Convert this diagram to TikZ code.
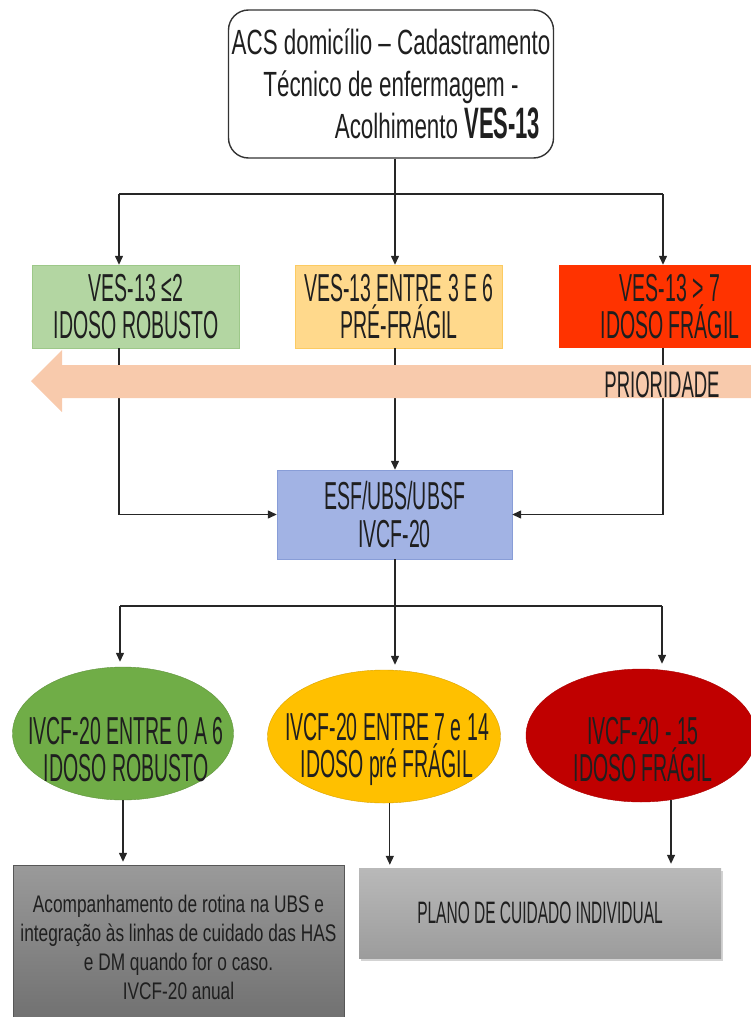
\documentclass[tikz,border=0pt]{standalone}
\usepackage{fontspec}
\setmainfont{Liberation Sans}[FakeStretch=0.5]
\newfontfamily\fontetopo{Liberation Sans}[FakeStretch=0.64]
\newfontfamily\fontecinza{Liberation Sans}[FakeStretch=0.72]
\usetikzlibrary{arrows.meta,shapes.geometric,shadows}

\definecolor{textocinza}{HTML}{1F1F1F}
\definecolor{verdeclaro}{HTML}{B3D6A2}
\definecolor{verdeborda}{HTML}{9DC889}
\definecolor{laranjaclaro}{HTML}{FFD98C}
\definecolor{laranjaborda}{HTML}{FCCB62}
\definecolor{vermelhovivo}{HTML}{FF3300}
\definecolor{pessego}{HTML}{F8CAAC}
\definecolor{azulesf}{HTML}{A2B3E4}
\definecolor{azulborda}{HTML}{889DD7}
\definecolor{verdeesc}{HTML}{70AD47}
\definecolor{amarelo}{HTML}{FFC000}
\definecolor{vermelhoesc}{HTML}{C00000}
\definecolor{cinzaesc1}{HTML}{9A9A9A}
\definecolor{cinzaesc2}{HTML}{6E6E6E}
\definecolor{cinzaborda}{HTML}{575757}
\definecolor{cinzacl1}{HTML}{B9B9B9}
\definecolor{cinzacl2}{HTML}{9C9C9C}

\tikzset{
  seta/.style={-{Triangle[length=9pt,width=8pt]}, line width=1.3pt, draw=black!85},
  linha/.style={line width=1.3pt, draw=black!85},
  caixa/.style={rectangle, inner sep=1pt, align=center, text=textocinza},
  vesbox/.style={caixa, minimum height=83pt, font=\fontsize{39}{37}\selectfont,
    execute at begin node=\rule{0pt}{41pt}},
  elipse/.style={ellipse, inner sep=0pt, minimum height=133pt},
  rotulo/.style={align=center, text=textocinza, inner sep=0pt},
}

\begin{document}
\begin{tikzpicture}[x=1pt, y=-1pt]
\useasboundingbox (0,0) rectangle (751,1017);

% Acolhimento
\node[caixa, draw=black!80, line width=1.4pt, rounded corners=20pt, minimum width=325pt,
  minimum height=148pt, inner sep=0pt, font=\fontetopo\fontsize{35}{42}\selectfont] (acs) at (391,84)
  {ACS domicílio – Cadastramento\\Técnico de enfermagem -\\\hspace*{93pt}Acolhimento
   {\rmfamily\bfseries\fontsize{44}{42}\selectfont VES-13}};

% VES-13
\node[vesbox, draw=verdeborda, fill=verdeclaro, minimum width=207pt] (ves1) at (136,306.5) {VES-13 ≤2\\IDOSO ROBUSTO};
\node[vesbox, draw=laranjaborda, fill=laranjaclaro, minimum width=207pt] (ves2) at (399,306.5) {VES-13 ENTRE 3 E 6\\PRÉ-FRÁGIL};
\node[vesbox, fill=vermelhovivo, minimum width=222pt] (ves3) at (670,306.5) {VES-13 > 7\\IDOSO FRÁGIL};

\coordinate (r1e) at (119,194);
\coordinate (r1m) at (395,194);
\coordinate (r1d) at (663,194);
\draw[linha] (r1m |- acs.south) -- (r1m);
\draw[linha] (r1e) -- (r1d);
\draw[seta] (r1e) -- (r1e |- ves1.north);
\draw[seta] (r1m) -- (r1m |- ves2.north);
\draw[seta] (r1d) -- (r1d |- ves3.north);

% ESF
\node[caixa, draw=azulborda, fill=azulesf, minimum width=235pt, minimum height=89pt,
  font=\fontsize{39}{38}\selectfont] (esf) at (394.5,514.5) {ESF/UBS/UBSF\\IVCF-20};

\draw[seta] (r1e |- ves1.south) |- (esf.west);
\draw[seta] (r1m |- ves2.south) -- (r1m |- esf.north);
\draw[seta] (r1d |- ves3.south) |- (esf.east);

% Prioridade
\fill[pessego] (760,365) -- (62,365) -- (62,350) -- (31,381) -- (62,412) -- (62,398) -- (760,398) -- cycle;
\node[rotulo, font=\fontsize{37}{37}\selectfont] (prio) at (662,385) {PRIORIDADE};

% IVCF-20
\node[elipse, draw=verdeesc!85!black, fill=verdeesc, minimum width=221pt] (ivcf1) at (123,733.5) {};
\node[elipse, draw=amarelo!85!black, fill=amarelo, minimum width=233pt] (ivcf2) at (384,736.5) {};
\node[elipse, draw=vermelhoesc!90!black, fill=vermelhoesc, minimum width=230pt] (ivcf3) at (641,735.5) {};
\node[rotulo, font=\fontsize{39}{37}\selectfont] (t-ivcf1) at (126,749.5) {IVCF-20 ENTRE 0 A 6\\IDOSO ROBUSTO};
\node[rotulo, font=\fontsize{39}{37}\selectfont] (t-ivcf2) at (387,749.5) {IVCF-20 ENTRE 7 e 14\\IDOSO pré FRÁGIL};
\node[rotulo, font=\fontsize{39}{37}\selectfont] (t-ivcf3) at (643,749.5) {IVCF-20 - 15\\IDOSO FRÁGIL};

\coordinate (r2e) at (120,606);
\coordinate (r2m) at (395,606);
\coordinate (r2d) at (662,606);
\draw[linha] (r2m |- esf.south) -- (r2m);
\draw[linha] (r2e) -- (r2d);
\draw[seta, shorten >=5pt] (r2e) -- (r2e |- ivcf1.north);
\draw[seta, shorten >=5pt] (r2m) -- (r2m |- ivcf2.north);
\draw[seta, shorten >=5pt] (r2d) -- (r2d |- ivcf3.north);

% Cuidado
\node[caixa, draw=cinzaborda, top color=cinzaesc1, bottom color=cinzaesc2, minimum width=331pt,
  minimum height=165pt, font=\fontecinza\fontsize{24}{29}\selectfont] (acomp) at (178.5,947.5)
  {Acompanhamento de rotina na UBS e\\integração às linhas de cuidado das HAS\\e DM quando for o caso.\\IVCF-20 anual};
\node[caixa, top color=cinzacl1, bottom color=cinzacl2, minimum width=362pt, minimum height=90pt,
  drop shadow={shadow xshift=2pt, shadow yshift=-3pt, opacity=0.35},
  font=\fontsize{31}{31}\selectfont] (plano) at (540,913) {PLANO DE CUIDADO INDIVIDUAL};

\draw[seta, shorten >=3pt] (ivcf1.south) -- (ivcf1.south |- acomp.north);
\draw[seta, shorten >=3pt] (ivcf2.-85) -- (ivcf2.-85 |- plano.north);
\draw[seta, shorten >=4pt] (ivcf3.-65) -- (ivcf3.-65 |- plano.north);
\end{tikzpicture}
\end{document}
